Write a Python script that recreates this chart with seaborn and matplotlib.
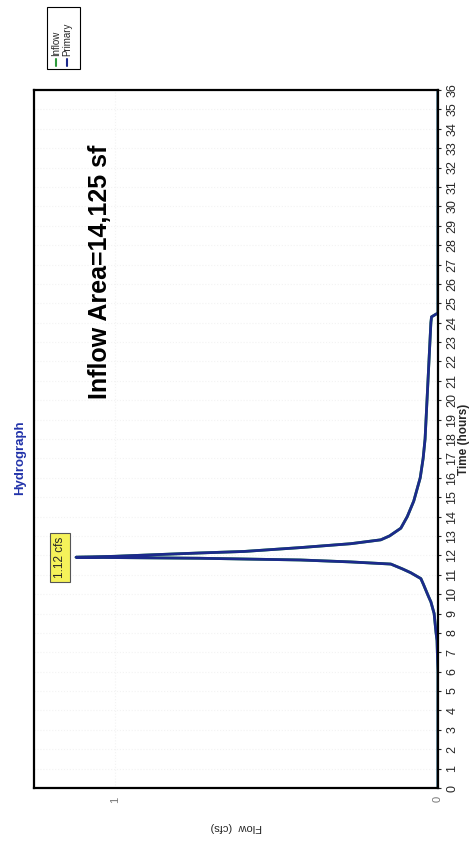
import numpy as np
import pandas as pd
import matplotlib
matplotlib.use("Agg")
import matplotlib.pyplot as plt
import seaborn as sns
from matplotlib.lines import Line2D

time_hr = [0, 2, 4, 6.0, 7.0, 7.6, 8.0, 9.0, 9.6, 9.9, 10.5, 10.8, 11.1, 11.3, 11.55,
           11.66, 11.76, 11.85, 11.9, 11.95, 12.05, 12.12, 12.2, 12.4, 12.6, 12.8,
           13.0, 13.4, 14.0, 14.8, 16.0, 17.0, 18.0, 20.0, 22.0, 24.0, 24.3, 24.5,
           28, 32, 36]
flow_cfs = [0, 0, 0, 0.0, 0.002, 0.003, 0.006, 0.012, 0.022, 0.03, 0.045, 0.053, 0.084,
            0.11, 0.146, 0.27, 0.425, 0.74, 1.12, 1.0, 0.85, 0.74, 0.60, 0.425, 0.27,
            0.177, 0.15, 0.115, 0.095, 0.075, 0.055, 0.046, 0.04, 0.034, 0.028, 0.022,
            0.02, 0.0, 0, 0, 0]
series = ["Inflow", "Primary"]
colors = ["#2e9a3c", "#1c2a8c"]
time_ticks = list(range(0, 37))
flow_ticks = [0, 1]
peak_time, peak_flow = 11.9, 1.12

df = pd.DataFrame({"time": time_hr, "flow": flow_cfs})

sns.set_style("white")
plt.rcParams["font.family"] = ["Liberation Sans", "DejaVu Sans"]

fig = plt.figure(figsize=(4.72, 8.42), dpi=100)
ax = fig.add_axes([34 / 472, 54 / 842, 404 / 472, 698 / 842])

for name, col in zip(series, colors):
    sns.lineplot(data=df, x="flow", y="time", orient="y", sort=False, estimator=None,
                 color=col, linewidth=2, ax=ax)

ax.set_xlim(1.25, 0)
ax.set_ylim(0, 36)
ax.yaxis.tick_right()
ax.yaxis.set_label_position("right")
ax.set_yticks(time_ticks)
ax.set_yticklabels([str(t) for t in time_ticks], rotation=90, va="center", fontsize=9)
ax.set_xticks(flow_ticks)
ax.set_xticklabels([str(f) for f in flow_ticks], rotation=90, fontsize=8, color="#777777")
ax.tick_params(axis="both", length=2, pad=4)
ax.grid(True, color="#f3f3f3", linestyle=":", linewidth=0.8)
for s in ax.spines.values():
    s.set_color("black")
    s.set_linewidth(1.6)

ax.set_ylabel("Time (hours)", rotation=90, fontsize=8.5, fontweight="bold", labelpad=0)
ax.set_xlabel("Flow  (cfs)", rotation=180, fontsize=8, labelpad=14)

ax.text(1.047, 26.6, "Inflow Area=14,125 sf", rotation=90, ha="center", va="center",
        fontsize=18, fontweight="bold", color="black")
ax.text(1.17, peak_time, f"{peak_flow:.2f} cfs", rotation=90, ha="center", va="center",
        fontsize=8.5, bbox=dict(boxstyle="square,pad=0.35", fc="#f5f25a", ec="#555555", lw=0.8))

fig.text(20 / 472, 1 - 458 / 842, "Hydrograph", rotation=90, ha="center", va="center",
         fontsize=9.5, fontweight="bold", color="#2233aa")

# rotated legend, top-left
fig.patches.append(plt.Rectangle((47 / 472, 1 - 69 / 842), 33 / 472, 62 / 842,
                                 transform=fig.transFigure, fill=True, fc="white",
                                 ec="black", lw=0.8))
for i, (name, col) in enumerate(zip(series, colors)):
    xf = (56 + 11 * i) / 472
    fig.add_artist(Line2D([xf, xf], [1 - 66 / 842, 1 - 59 / 842], color=col, lw=1.5,
                          transform=fig.transFigure))
    fig.text(xf, 1 - 56 / 842, name, rotation=90, ha="center", va="bottom", fontsize=7)

fig.savefig("out.png", dpi=100)
